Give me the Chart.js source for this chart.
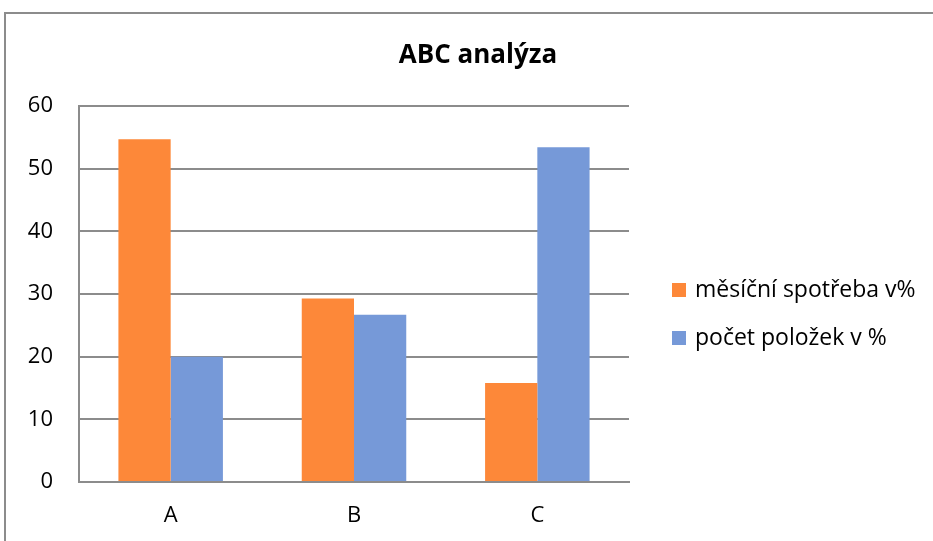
<!DOCTYPE html>
<html>
<head>
<meta charset="utf-8">
<script src="https://cdn.jsdelivr.net/npm/chart.js@4"></script>
<style>
  html, body { margin: 0; padding: 0; background: #fff; overflow: hidden; }
  #frame { position: absolute; left: 4px; top: 12px; width: 2000px; height: 1000px; border: 2px solid #8c8c8c; }
  #wrap { position: absolute; left: 0; top: 0; width: 933px; height: 541px; }
</style>
</head>
<body>
<div id="frame"></div>
<div id="wrap"><canvas id="chart"></canvas></div>
<script>
const categories = ['A', 'B', 'C'];
const spotreba = [54.7, 29.3, 15.8];
const polozky = [20.0, 26.7, 53.4];
const seriesNames = ['měsíční spotřeba v%', 'počet položek v %'];
const yTicks = [0, 10, 20, 30, 40, 50, 60];
const chartTitle = 'ABC analýza';

const FONT = "'Open Sans', sans-serif";

// title and legend drawn by hand so they sit where the reference puts them
const extras = {
  id: 'extras',
  afterDraw(chart) {
    const ctx = chart.ctx;
    const area = chart.chartArea;
    ctx.save();
    ctx.fillStyle = '#000';
    ctx.font = "bold 26px " + FONT;
    ctx.textAlign = 'center';
    ctx.textBaseline = 'middle';
    ctx.fillText(chartTitle, 478, 56);

    ctx.font = "23px " + FONT;
    ctx.textAlign = 'left';
    chart.data.datasets.forEach((ds, i) => {
      const y = 290 + i * 48;
      ctx.fillStyle = ds.backgroundColor;
      ctx.fillRect(area.right + 43, y - 7, 14, 14);
      ctx.fillStyle = '#000';
      ctx.fillText(ds.label, area.right + 66, y);
    });
    ctx.restore();
  }
};

new Chart(document.getElementById('chart'), {
  type: 'bar',
  data: {
    labels: categories,
    datasets: [
      { label: seriesNames[0], data: spotreba, backgroundColor: '#FD8839' },
      { label: seriesNames[1], data: polozky, backgroundColor: '#7699D8' }
    ]
  },
  options: {
    responsive: true,
    maintainAspectRatio: false,
    animation: false,
    layout: { padding: { left: 0, right: 304, top: 106, bottom: 0 } },
    datasets: { bar: { categoryPercentage: 0.57, barPercentage: 1.0 } },
    plugins: { legend: { display: false }, title: { display: false }, tooltip: { enabled: false } },
    scales: {
      x: {
        grid: { display: false, drawTicks: false },
        border: { display: true, color: '#8c8c8c', width: 2 },
        ticks: { color: '#000', font: { family: FONT, size: 22 }, padding: 21 },
        afterFit: s => { s.height = 59; }
      },
      y: {
        min: 0,
        max: 60,
        afterBuildTicks: s => { s.ticks = yTicks.map(v => ({ value: v })); },
        grid: { color: '#8c8c8c', lineWidth: 2, drawTicks: false },
        border: { display: true, color: '#8c8c8c', width: 2 },
        ticks: { color: '#000', font: { family: FONT, size: 22 }, padding: 26 },
        afterFit: s => { s.width = 79; }
      }
    }
  },
  plugins: [extras]
});
</script>
</body>
</html>
